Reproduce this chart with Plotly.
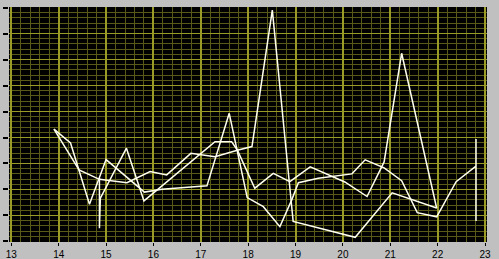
import plotly.graph_objects as go

# Series A
xa = [13.90, 14.25, 14.43, 14.65, 15.00, 15.81, 16.18, 17.13, 17.60, 17.98, 18.32, 18.67,
      18.92, 19.06, 19.48, 20.01, 20.19, 20.47, 20.87, 21.24, 21.57, 21.98, 22.39, 22.81, 22.81, 22.81]
ya = [4.32, 3.79, 2.73, 1.43, 3.15, 1.90, 2.01, 2.14, 4.93, 1.69, 1.34, 0.57,
      1.60, 2.26, 2.43, 2.56, 2.60, 3.14, 2.83, 2.34, 1.11, 0.95, 2.30, 2.90, 3.94, 0.79]

# Series B
xb = [13.90, 14.43, 14.86, 15.44, 15.93, 16.28, 16.79, 17.30, 17.79, 18.08, 18.51, 18.95,
      20.26, 21.04, 21.98]
yb = [4.32, 2.75, 2.39, 2.26, 2.69, 2.56, 3.39, 3.26, 3.52, 3.65, 8.90, 0.77,
      0.16, 1.87, 1.29]

# Series C
xc = [14.86, 14.86, 14.88, 15.43, 15.80, 17.30, 17.65, 17.77, 18.14, 18.53, 18.88, 19.31,
      20.04, 20.51, 20.87, 21.24, 21.98]
yc = [2.44, 0.51, 1.67, 3.59, 1.56, 3.84, 3.84, 3.52, 2.05, 2.62, 2.30, 2.87,
      2.29, 1.73, 3.06, 7.24, 1.28]

x_ticks = list(range(13, 24))
y_ticks = list(range(0, 10))

W, H = 499, 259
plot_l, plot_r, plot_t, plot_b = 9, 487, 7, 242

line_color = "#fffff0"
fig = go.Figure()
for xs, ys in [(xa, ya), (xb, yb), (xc, yc)]:
    fig.add_trace(go.Scatter(x=xs, y=ys, mode="lines",
                             line=dict(color=line_color, width=1.5),
                             hoverinfo="skip", showlegend=False))

paper_w = plot_r  # margin l=0, r = W - plot_r
paper_h = H - plot_t  # margin t=plot_t, b=0
major = "#9a9a26"
minor = "#5a5a18"

fig.update_layout(
    width=W, height=H,
    margin=dict(l=0, r=W - plot_r, t=plot_t, b=0, pad=0, autoexpand=False),
    paper_bgcolor="#c0c0c0",
    plot_bgcolor="#000000",
    xaxis=dict(
        range=[12.951, 23.042],
        domain=[plot_l / paper_w, 1],
        anchor="free", position=(H - 242) / paper_h,
        automargin=False,
        tickmode="array", tickvals=x_ticks, ticktext=[str(t) for t in x_ticks],
        ticks="outside", ticklen=3, tickwidth=1, tickcolor="#000000",
        ticklabelstandoff=0,
        tickfont=dict(family="Liberation Sans, Arial", size=10, color="#000000"),
        showgrid=True, gridcolor=major, gridwidth=2,
        minor=dict(dtick=0.2, tick0=13, showgrid=True, gridcolor=minor, gridwidth=1, ticks=""),
        zeroline=False, showline=False, fixedrange=True,
    ),
    yaxis=dict(
        range=[-0.02, 9.02],
        domain=[(H - plot_b) / paper_h, 1],
        anchor="free", position=8 / paper_w,
        automargin=False,
        tickmode="array", tickvals=y_ticks, ticktext=["" for _ in y_ticks],
        ticks="outside", ticklen=5, tickwidth=2, tickcolor="#000000",
        showgrid=True, gridcolor=major, gridwidth=1,
        minor=dict(dtick=0.2, tick0=0, showgrid=True, gridcolor=minor, gridwidth=1, ticks=""),
        zeroline=False, showline=False, fixedrange=True,
    ),
)

fig.write_html("out.html")
